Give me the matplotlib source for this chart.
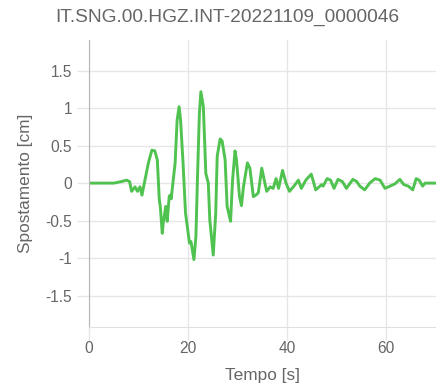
import matplotlib.pyplot as plt

plt.rcParams['font.family'] = ['Liberation Sans', 'DejaVu Sans']

title = "IT.SNG.00.HGZ.INT-20221109_0000046"

# time [s] and displacement [cm]
tempo = [0, 5, 6.5, 7.6, 8.2, 8.6, 9.3, 9.8, 10.3, 10.7, 11.3, 12.0, 12.7, 13.3,
         13.8, 14.2, 14.4, 14.8, 15.0, 15.5, 15.8, 16.2, 16.4, 16.6, 17.4, 17.8,
         18.2, 18.5, 19.0, 19.5, 20.3, 20.6, 21.2, 21.6, 21.9, 22.3, 22.6, 23.1,
         23.6, 24.1, 24.4, 25.1, 25.6, 25.9, 26.5, 26.9, 27.5, 27.9, 28.6, 29.0,
         29.5, 29.8, 30.4, 30.8, 31.2, 32.0, 32.5, 33.2, 33.7, 34.2, 34.9, 35.4,
         35.9, 36.6, 37.2, 37.8, 38.3, 39.1, 39.8, 40.5, 41.4, 42.3, 42.9, 43.8,
         44.9, 45.8, 47.0, 47.3, 48.1, 48.8, 49.5, 50.3, 51.2, 52.0, 53.3, 54.1,
         54.7, 55.7, 56.7, 57.8, 58.8, 59.8, 60.8, 61.8, 62.8, 63.6, 64.5, 65.4,
         66.1, 66.7, 67.4, 67.9, 70.0]
spostamento = [0, 0.0, 0.02, 0.04, 0.02, -0.11, -0.05, -0.11, -0.05, -0.16, 0.04,
               0.27, 0.44, 0.43, 0.31, -0.22, -0.31, -0.67, -0.53, -0.31, -0.51,
               -0.18, -0.16, -0.21, 0.27, 0.84, 1.02, 0.84, 0.27, -0.40, -0.80,
               -0.78, -1.02, -0.71, 0.04, 0.93, 1.22, 1.02, 0.13, 0.0, -0.49, -0.96,
               -0.40, 0.36, 0.59, 0.56, 0.31, -0.31, -0.51, 0.04, 0.43, 0.31, -0.18,
               -0.30, -0.05, 0.27, 0.20, -0.18, -0.16, -0.13, 0.20, 0.04, -0.11,
               -0.05, -0.07, 0.06, -0.07, 0.17, 0.0, -0.11, -0.04, 0.04, -0.07, 0.04,
               0.12, -0.09, -0.02, -0.04, 0.06, 0.04, -0.07, 0.05, 0.02, -0.07, 0.05,
               0.02, -0.04, -0.09, 0.0, 0.06, 0.04, -0.07, -0.04, -0.01, 0.05, -0.02,
               -0.04, -0.09, 0.06, 0.04, -0.04, 0.0, 0.0]

x_ticks = [0, 20, 40, 60]
y_ticks = [-1.5, -1, -0.5, 0, 0.5, 1, 1.5]
y_labels = ['-1.5', '-1', '-0.5', '0', '0.5', '1', '1.5']

fig = plt.figure(figsize=(4.36, 3.91), dpi=100)
ax = fig.add_axes([89 / 436, 1 - 327 / 391, 1 - 89 / 436, (327 - 40) / 391])

ax.plot(tempo, spostamento, color='#50c250', linewidth=2.1,
        solid_joinstyle='round', solid_capstyle='round')

ax.set_xlim(0, 70.1)
ax.set_ylim(-1.92, 1.91)
ax.set_xticks(x_ticks)
ax.set_yticks(y_ticks)
ax.set_yticklabels(y_labels)
ax.grid(True, color='#e6e6e6', linewidth=1)
ax.set_axisbelow(True)

for s in ['top', 'right']:
    ax.spines[s].set_visible(False)
ax.spines['left'].set_color('#b5b5b5')
ax.spines['bottom'].set_color('#e0e0e0')
ax.tick_params(axis='both', length=9, width=1, color='#e6e6e6', labelcolor='#666666',
               labelsize=11.2, pad=3)
ax.tick_params(axis='x', pad=1)

ax.set_xlabel('Tempo [s]', fontsize=12.4, color='#666666', labelpad=9)
ax.set_ylabel('Spostamento [cm]', fontsize=12.4, color='#666666', labelpad=9)

fig.text(227 / 436, 1 - 17 / 391, title, ha='center', va='center',
         fontsize=13.8, color='#666666')

fig.savefig('out.png', dpi=100)
